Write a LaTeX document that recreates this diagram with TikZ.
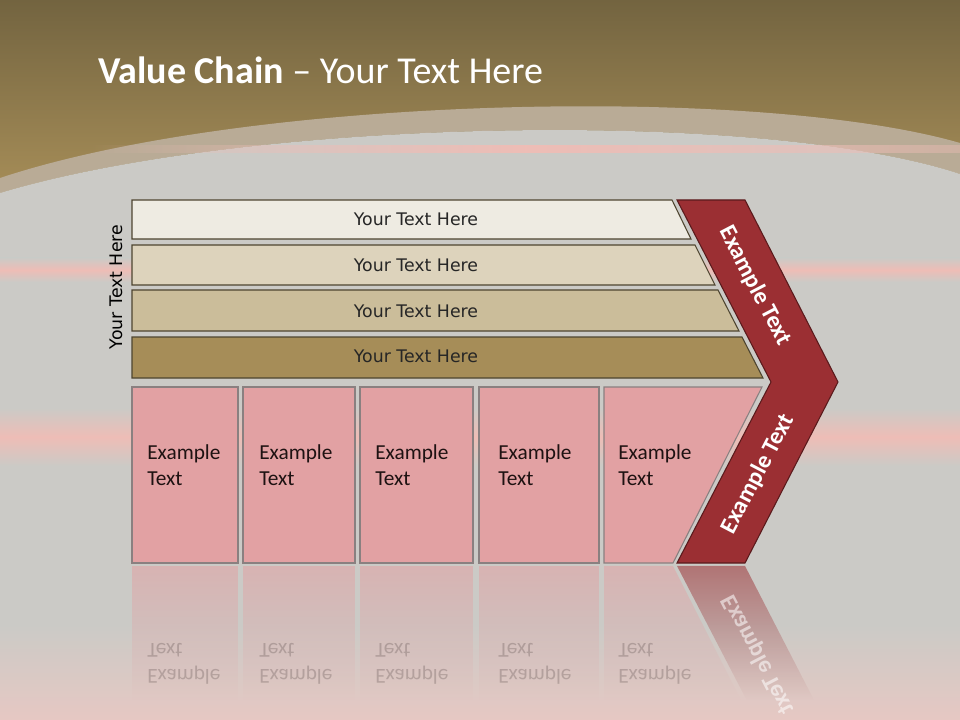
\documentclass[tikz,border=0pt]{standalone}
\usepackage{fontspec}
\setmainfont{Carlito}
\newfontfamily\verdfont{DejaVu Sans}
\usetikzlibrary{fadings}

\definecolor{bggray}{HTML}{CBCAC6}
\definecolor{browntop}{HTML}{736440}
\definecolor{brownlow}{HTML}{A78E58}
\definecolor{arcband}{HTML}{B9AB96}
\definecolor{streakpink}{HTML}{EEBDB6}
\definecolor{glowpink}{HTML}{E6C8C3}
\definecolor{bandA}{HTML}{EEEBE2}
\definecolor{bandB}{HTML}{DDD3BC}
\definecolor{bandC}{HTML}{CBBD9A}
\definecolor{bandD}{HTML}{A68D58}
\definecolor{bandline}{HTML}{4E4530}
\definecolor{boxpink}{HTML}{E2A1A3}
\definecolor{boxline}{HTML}{8A8080}
\definecolor{chevred}{HTML}{9B2F33}
\definecolor{chevline}{HTML}{5A1A1C}
\definecolor{textdark}{HTML}{262626}
\definecolor{boxtextc}{HTML}{1E1212}

\tikzfading[name=reflfade, top color=transparent!45, bottom color=transparent!100]
\tikzfading[name=sidefade, left color=transparent!100, right color=transparent!60, middle color=transparent!0]

\begin{document}
\begin{tikzpicture}[x=0.75pt,y=-0.75pt,
    bandbox/.style={draw=bandline, line width=0.8pt},
    valbox/.style={fill=boxpink, draw=boxline, line width=0.8pt},
    chevbox/.style={fill=chevred, draw=chevline, line width=0.8pt},
    bandtext/.style={font=\verdfont\fontsize{13}{15}\selectfont, text=textdark, inner sep=0pt},
    boxtext/.style={font=\fontsize{16}{19.5}\selectfont, text=boxtextc, align=left, anchor=west, inner sep=0pt},
    chevtext/.style={font=\bfseries\fontsize{18}{21}\selectfont, text=white, inner sep=0pt},
    reflbox/.style={fill=boxpink, path fading=reflfade},
    refltext/.style={boxtext, opacity=0.2, yscale=-1},
    streak/.style={top color=bggray, bottom color=bggray, middle color=streakpink}]
        \useasboundingbox (0,0) rectangle (960,720);
        % background
        \fill[bggray] (0,0) rectangle (960,720);
        \shade[streak] (0,258) rectangle (960,282);
        \shade[streak] (0,408) rectangle (960,466);
        \shade[top color=bggray, bottom color=glowpink] (0,625) rectangle (960,720);
        \shade[top color=browntop, bottom color=brownlow] (0,0) rectangle (960,195);
        \fill[arcband] (0,178) .. controls (250,95) and (760,85) .. (960,143)
            -- (960,174) .. controls (760,108) and (250,118) .. (0,193) -- cycle;
        \fill[bggray] (0,193) .. controls (250,118) and (760,108) .. (960,174)
            -- (960,200) -- (0,200) -- cycle;
        \fill[streakpink, path fading=sidefade] (90,145) rectangle (960,153);

        \node[anchor=base west, text=white, font=\fontsize{28.5}{32}\selectfont, inner sep=0pt] (title) at (98,84)
            {\textbf{Value Chain} – Your Text Here};

        % support bands
        \draw[bandbox, fill=bandA] (132,200) -- (672,200) -- (691,239) -- (132,239) -- cycle;
        \draw[bandbox, fill=bandB] (132,245) -- (695,245) -- (715,285) -- (132,285) -- cycle;
        \draw[bandbox, fill=bandC] (132,290) -- (718,290) -- (739,331) -- (132,331) -- cycle;
        \draw[bandbox, fill=bandD] (132,337) -- (742,337) -- (763,378) -- (132,378) -- cycle;
        \node[bandtext] (b1) at (416,219) {Your Text Here};
        \node[bandtext] (b2) at (416,265) {Your Text Here};
        \node[bandtext] (b3) at (416,311) {Your Text Here};
        \node[bandtext] (b4) at (416,356) {Your Text Here};
        \node[bandtext, text=black, rotate=90] (side) at (116,287) {Your Text Here};

        % primary boxes
        \draw[valbox] (132,387) rectangle (238,563);
        \draw[valbox] (243,387) rectangle (355,563);
        \draw[valbox] (360,387) rectangle (473,563);
        \draw[valbox] (479,387) rectangle (599,563);
        \draw[valbox] (604,387) -- (762,387) -- (673,563) -- (604,563) -- cycle;
        \node[boxtext] (e1) at (147,465) {Example\\Text};
        \node[boxtext] (e2) at (259,465) {Example\\Text};
        \node[boxtext] (e3) at (375,465) {Example\\Text};
        \node[boxtext] (e4) at (498,465) {Example\\Text};
        \node[boxtext] (e5) at (618,465) {Example\\Text};

        % chevron
        \draw[chevbox] (677,200) -- (745,200) -- (838,382) -- (745,563) -- (677,563) -- (771,382) -- cycle;
        \node[chevtext, rotate=-62.5] (c1) at (755,286) {Example Text};
        \node[chevtext, rotate=62.5] (c2) at (758,474) {Example Text};

        % reflection
        \fill[reflbox] (132,566) rectangle (238,700);
        \fill[reflbox] (243,566) rectangle (355,700);
        \fill[reflbox] (360,566) rectangle (473,700);
        \fill[reflbox] (479,566) rectangle (599,700);
        \fill[reflbox] (604,566) -- (673,566) -- (740.8,700) -- (604,700) -- cycle;
        \fill[reflbox, fill=chevred] (677,566) -- (745,566) -- (813.9,700) -- (746.6,700) -- cycle;
        \node[refltext] (r1) at (147,664) {Example\\Text};
        \node[refltext] (r2) at (259,664) {Example\\Text};
        \node[refltext] (r3) at (375,664) {Example\\Text};
        \node[refltext] (r4) at (498,664) {Example\\Text};
        \node[refltext] (r5) at (618,664) {Example\\Text};
        \node[chevtext, opacity=0.55, rotate=-62.5, yscale=-1] (r6) at (758,655) {Example Text};
\end{tikzpicture}
\end{document}
